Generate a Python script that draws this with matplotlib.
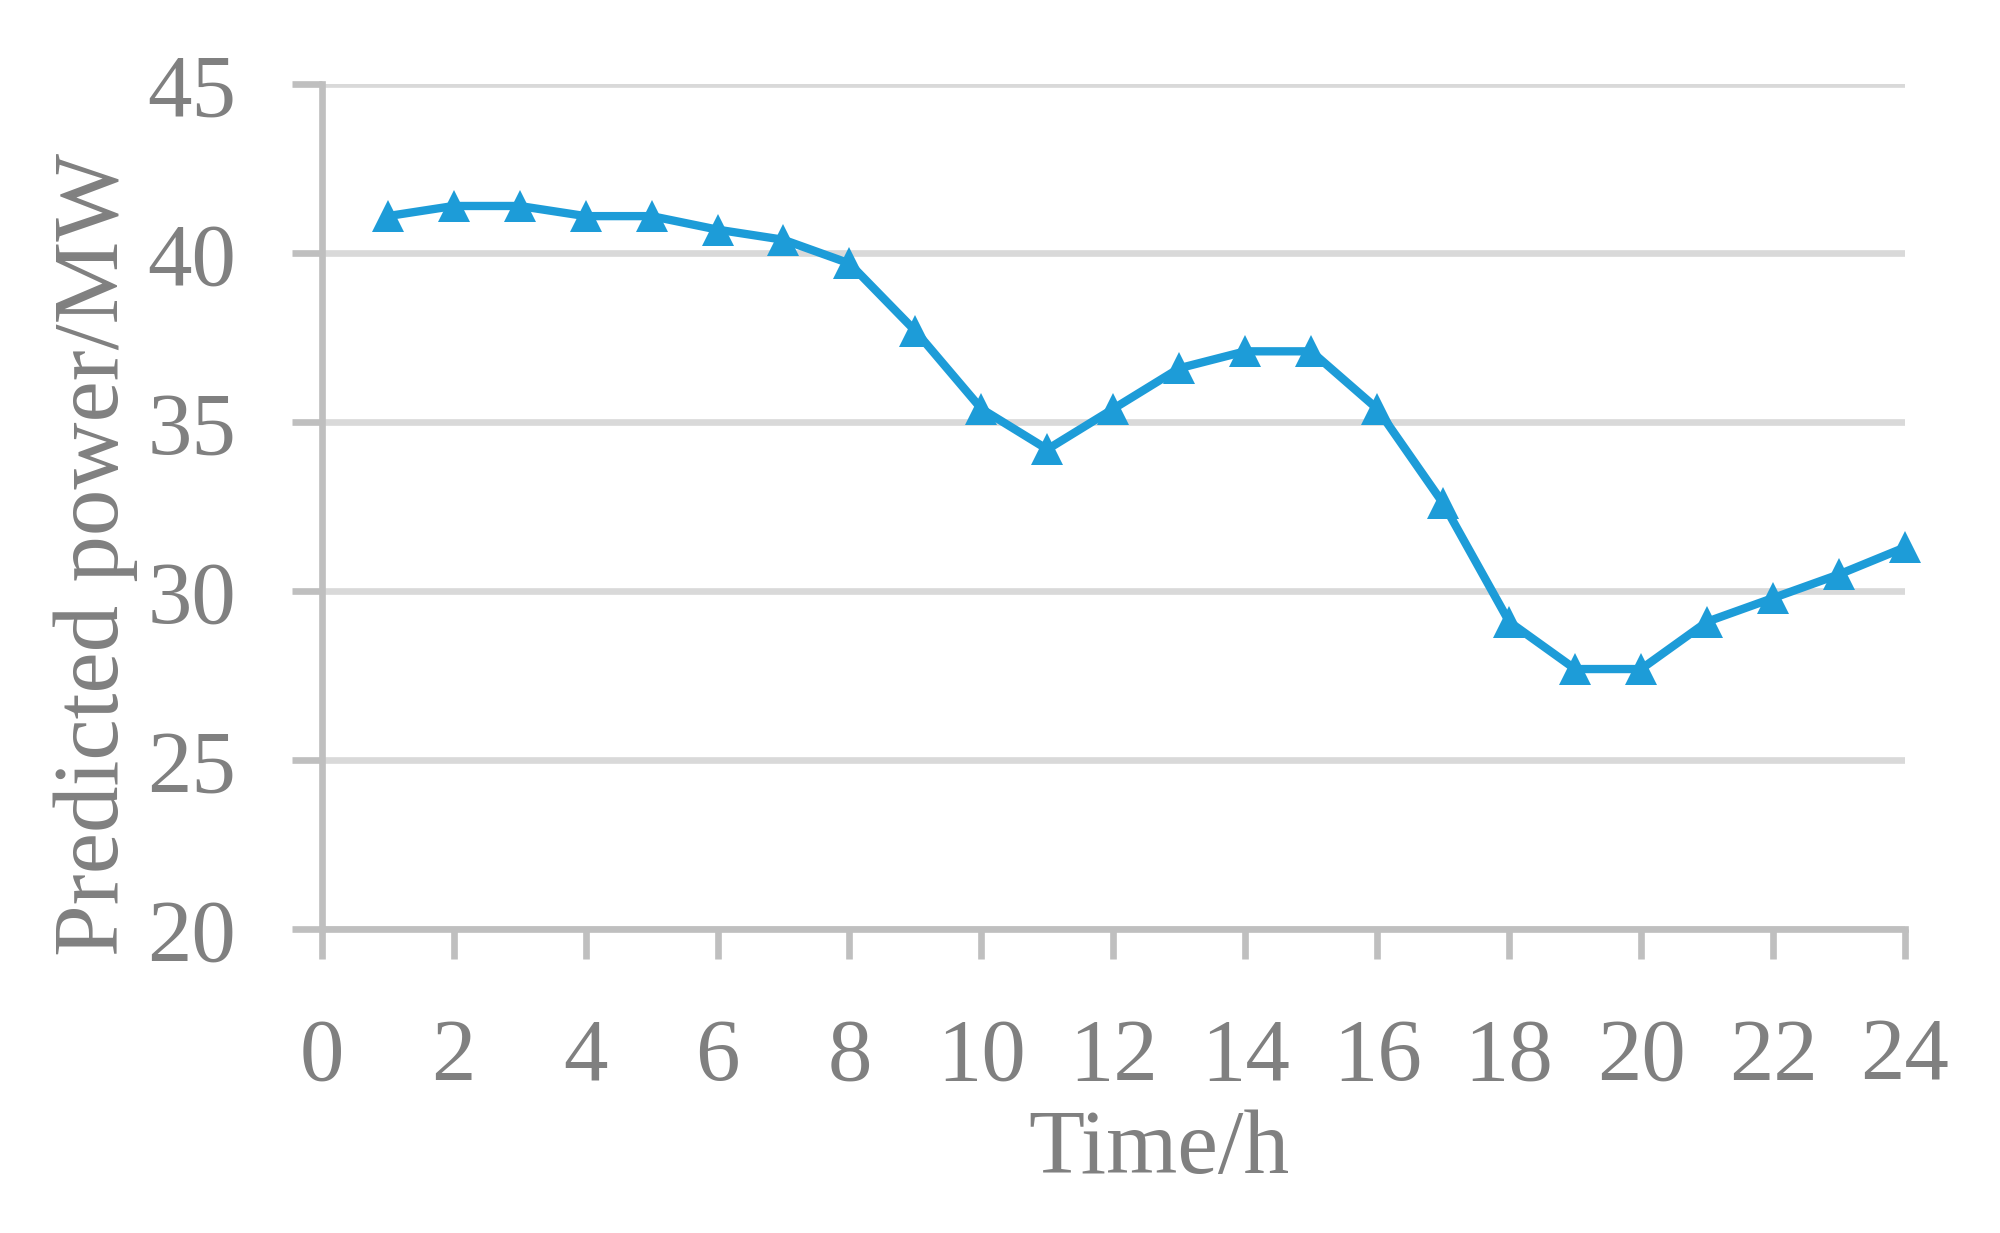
import matplotlib
matplotlib.use("Agg")
import matplotlib.pyplot as plt

# hourly predicted power
hours = list(range(1, 25))
power = [41.1, 41.4, 41.4, 41.1, 41.1, 40.7, 40.4, 39.7, 37.7, 35.4, 34.2, 35.4,
         36.6, 37.1, 37.1, 35.4, 32.6, 29.1, 27.7, 27.7, 29.1, 29.8, 30.5, 31.3]
x_ticks = list(range(0, 25, 2))
y_ticks = [20, 25, 30, 35, 40, 45]

text_col = "#808080"
plt.rcParams["font.family"] = ["Liberation Serif", "DejaVu Serif"]

fig = plt.figure(figsize=(10, 6.165), dpi=200)
ax = fig.add_axes([0.16085, 0.24631, 0.79165, 0.68532])

ax.plot(hours, power, color="#1D9CD8", lw=3.0, marker="^", ms=11.5,
        mew=0, clip_on=False, zorder=3)

ax.set_xlim(0, 24)
ax.set_ylim(20, 45)
ax.set_xticks(x_ticks)
ax.set_yticks(y_ticks)

ax.set_axisbelow(True)
ax.grid(axis="y", color="#D9D9D9", lw=2.4)
for side in ["top", "right"]:
    ax.spines[side].set_visible(False)
for side in ["left", "bottom"]:
    ax.spines[side].set_color("#BFBFBF")
    ax.spines[side].set_linewidth(2.4)

ax.tick_params(axis="both", direction="out", length=10.8, width=2.4,
               color="#BFBFBF", labelcolor=text_col, labelsize=32)
ax.tick_params(axis="x", pad=21)
ax.tick_params(axis="y", pad=20)

ax.set_xlabel("Time/h", fontsize=33, color=text_col)
ax.set_ylabel("Predicted power/MW", fontsize=33.5, color=text_col)
ax.xaxis.label.set(va="baseline", ha="center")
ax.xaxis.set_label_coords(0.5288, -0.2884)
ax.yaxis.label.set(va="baseline", ha="center", rotation_mode="anchor")
ax.yaxis.set_label_coords(-0.1287, 0.4435)

fig.savefig("out.png", dpi=200)
